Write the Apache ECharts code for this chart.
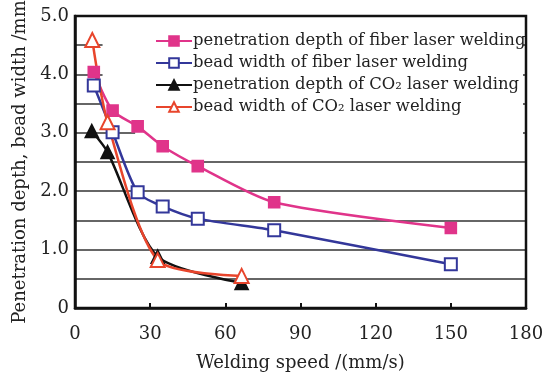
<!DOCTYPE html>
<html>
<head>
<meta charset="utf-8">
<script src="https://cdn.jsdelivr.net/npm/echarts@6/dist/echarts.min.js"></script>
<style>
  html, body { margin: 0; padding: 0; background: #fff; }
  #chart { width: 546px; height: 372px; }
</style>
</head>
<body>
<div id="chart"></div>
<script>
// values
var fiberDepthX = [7.5, 15, 25, 35, 49, 79.5, 150];
var fiberDepthY = [4.04, 3.38, 3.11, 2.77, 2.43, 1.81, 1.37];
var fiberWidthX = [7.5, 15, 25, 35, 49, 79.5, 150];
var fiberWidthY = [3.81, 3.01, 1.98, 1.74, 1.53, 1.33, 0.75];
var co2DepthX = [6.7, 13, 33, 66.5];
var co2DepthY = [3.03, 2.67, 0.88, 0.43];
var co2WidthX = [6.9, 13, 33, 66.5];
var co2WidthY = [4.59, 3.18, 0.82, 0.55];
var seriesNames = [
  'penetration depth of fiber laser welding',
  'bead width of fiber laser welding',
  'penetration depth of CO\u2082 laser welding',
  'bead width of CO\u2082 laser welding'
];
var xTicks = [0, 30, 60, 90, 120, 150, 180];

var FONT = 'DejaVu Serif';

function pairs(xs, ys) {
  return xs.map(function (x, i) { return [x, ys[i]]; });
}

function mkSeries(name, data, color, symbol, size) {
  return {
    name: name,
    type: 'line',
    data: data,
    smooth: 0.25,
    symbol: symbol,
    symbolSize: size,
    lineStyle: { color: color, width: 2.5 },
    itemStyle: { color: color, borderColor: color, borderWidth: 1.6 },
    z: 3
  };
}

var chart = echarts.init(document.getElementById('chart'));
chart.setOption({
  backgroundColor: '#fff',
  animation: false,
  grid: { left: 75, right: 20, top: 16, bottom: 64, outerBoundsMode: 'none' },
  legend: {
    orient: 'vertical',
    left: 150,
    top: 28,
    itemWidth: 36,
    itemHeight: 12,
    itemGap: 6,
    textStyle: { fontFamily: FONT, fontSize: 16.4, color: '#222', padding: [0, 0, 0, -4] },
    data: seriesNames
  },
  xAxis: {
    type: 'value',
    min: 0, max: 180, interval: 30,
    name: 'Welding speed /(mm/s)',
    nameLocation: 'middle',
    nameGap: 46,
    nameTextStyle: { fontFamily: FONT, fontSize: 18, color: '#222' },
    axisLine: { lineStyle: { color: '#111', width: 2.5 } },
    axisTick: { inside: true, length: 5, lineStyle: { color: '#111', width: 2 } },
    axisLabel: {
      fontFamily: FONT, fontSize: 18, color: '#222', margin: 17,
      customValues: xTicks
    },
    splitLine: { show: false }
  },
  yAxis: {
    type: 'value',
    min: 0, max: 5, interval: 0.5,
    name: 'Penetration depth, bead width /mm',
    nameLocation: 'middle',
    nameGap: 43,
    nameTextStyle: { fontFamily: FONT, fontSize: 18, color: '#222' },
    axisLine: { show: true, lineStyle: { color: '#111', width: 2.5 } },
    axisTick: { show: false },
    axisLabel: {
      fontFamily: FONT, fontSize: 18, color: '#222', margin: 6,
      formatter: function (v) {
        if (v === 0) return '0';
        if (Math.abs(v - Math.round(v)) < 1e-6) return v.toFixed(1);
        return '';
      }
    },
    splitLine: { lineStyle: { color: '#333', width: 1.6 } }
  },
  series: [
    mkSeries(seriesNames[0], pairs(fiberDepthX, fiberDepthY), '#e0348a', 'rect', 11),
    mkSeries(seriesNames[1], pairs(fiberWidthX, fiberWidthY), '#33379a', 'emptyRect', 12),
    mkSeries(seriesNames[2], pairs(co2DepthX, co2DepthY), '#111111', 'triangle', 13),
    mkSeries(seriesNames[3], pairs(co2WidthX, co2WidthY), '#e8452c', 'emptyTriangle', 14)
  ]
});

// white patch behind the legend (hides the upper grid lines) and the plot frame
var p0 = chart.convertToPixel({ gridIndex: 0 }, [0, 0]);
var p1 = chart.convertToPixel({ gridIndex: 0 }, [180, 5]);
var g = chart.convertToPixel({ gridIndex: 0 }, [11, 3.25]);
var h = chart.convertToPixel({ gridIndex: 0 }, [24, 2.75]);
chart.setOption({
  graphic: [
    { type: 'rect', z: 1, shape: { x: g[0], y: p1[1] + 3, width: p1[0] - g[0] - 3, height: g[1] - p1[1] - 3 }, style: { fill: '#fff' } },
    { type: 'rect', z: 1, shape: { x: h[0], y: g[1], width: p1[0] - h[0] - 3, height: h[1] - g[1] }, style: { fill: '#fff' } },
    { type: 'rect', z: 5, shape: { x: p0[0], y: p1[1], width: p1[0] - p0[0], height: p0[1] - p1[1] }, style: { fill: null, stroke: '#111', lineWidth: 2.5 } }
  ]
});
</script>
</body>
</html>
